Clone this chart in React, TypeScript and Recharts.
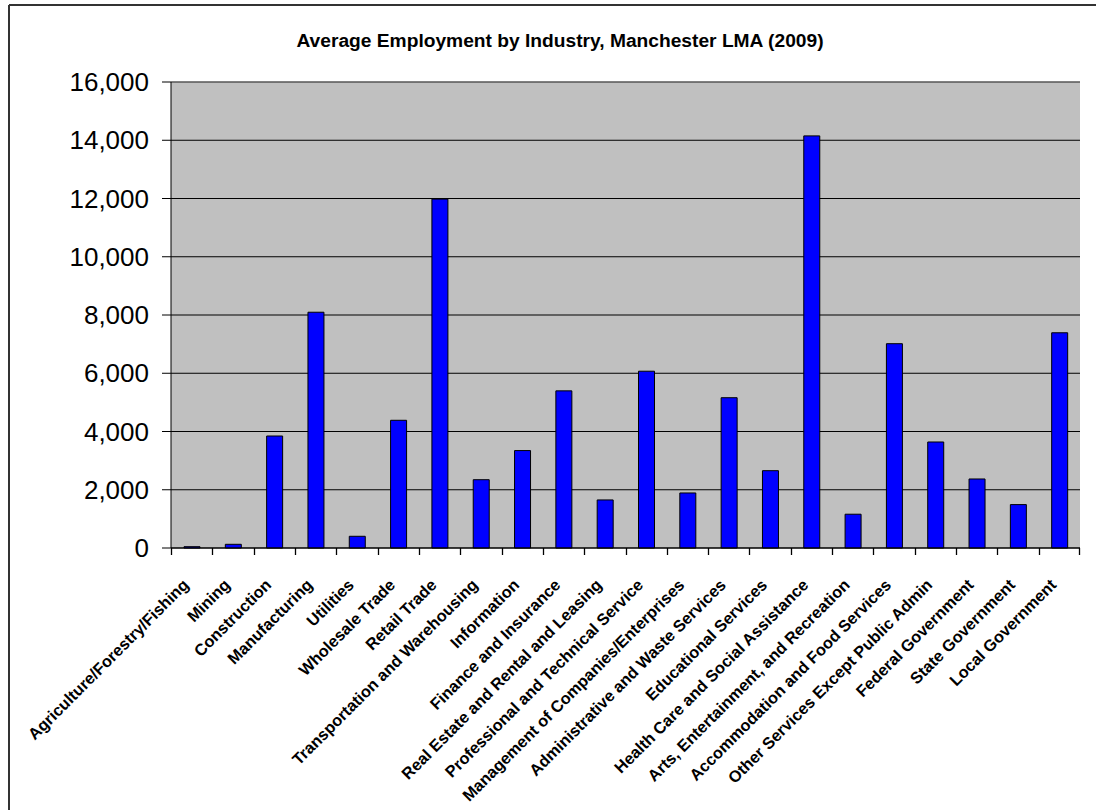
import React from 'react';
import { BarChart, Bar, XAxis, YAxis, CartesianGrid, ReferenceLine } from 'recharts';

const chartTitle = 'Average Employment by Industry, Manchester LMA (2009)';

const categories = [
  'Agriculture/Forestry/Fishing',
  'Mining',
  'Construction',
  'Manufacturing',
  'Utilities',
  'Wholesale Trade',
  'Retail Trade',
  'Transportation and Warehousing',
  'Information',
  'Finance and Insurance',
  'Real Estate and Rental and Leasing',
  'Professional and Technical Service',
  'Management of Companies/Enterprises',
  'Administrative and Waste Services',
  'Educational Services',
  'Health Care and Social Assistance',
  'Arts, Entertainment, and Recreation',
  'Accommodation and Food Services',
  'Other Services Except Public Admin',
  'Federal Government',
  'State Government',
  'Local Government',
];

const employment = [
  45, 127, 3845, 8095, 402, 4385, 11980, 2345, 3345, 5395, 1650, 6070,
  1890, 5160, 2655, 14150, 1160, 7015, 3640, 2370, 1490, 7390,
];

const yTicks = [0, 2000, 4000, 6000, 8000, 10000, 12000, 14000, 16000];

const data = categories.map((name, i) => ({ name, value: employment[i] }));

const FONT = '"Liberation Sans", Arial, Helvetica, sans-serif';

const crisp = (v: number) => Math.round(v) + 0.5;

const CategoryTick = (props: any) => {
  const { x, y, payload, index, visibleTicksCount } = props;
  const count = Number.isFinite(visibleTicksCount) && visibleTicksCount > 0 ? visibleTicksCount : categories.length;
  const off = Number(payload && payload.offset) || 0;
  const tx = x - 2;
  const ty = y + 38;
  const isLast = index === count - 1;
  const lx = crisp(x - off);
  const rx = crisp(x + off) - 1;
  return (
    <g>
      <path d={`M${lx},${y}L${lx},${y + 7}`} stroke="#000000" strokeWidth={1.3} fill="none" />
      {isLast && <path d={`M${rx},${y}L${rx},${y + 7}`} stroke="#000000" strokeWidth={1.3} fill="none" />}
      <text
        x={tx}
        y={ty}
        transform={`rotate(-45, ${tx}, ${ty})`}
        textAnchor="end"
        fontFamily={FONT}
        fontWeight="bold"
        fontSize={16.3}
        fill="#000"
      >
        {payload.value}
      </text>
    </g>
  );
};

export default function App() {
  return (
    <div style={{ position: 'absolute', left: 0, top: 0, width: 1101, height: 810, background: '#fff', overflow: 'hidden' }}>
      <BarChart
        width={1101}
        height={810}
        data={data}
        margin={{ top: 82, right: 21, bottom: 0, left: 0 }}
      >
        <CartesianGrid
          xAxisId="cat"
          yAxisId="left"
          vertical={false}
          stroke="#000"
          fill="#C0C0C0"
          fillOpacity={1}
        />
        <XAxis
          xAxisId="cat"
          dataKey="name"
          interval={0}
          tick={<CategoryTick />}
          tickLine={false}
          tickSize={0}
          tickMargin={0}
          axisLine={{ stroke: '#000' }}
          height={262}
        />
        <YAxis
          yAxisId="left"
          domain={[0, 16000]}
          ticks={yTicks}
          interval={0}
          width={171}
          tickSize={9}
          tickMargin={13}
          tickFormatter={(v: number) => v.toLocaleString('en-US')}
          tick={{ fontSize: 26, fill: '#000', fontFamily: FONT }}
          axisLine={{ stroke: '#000' }}
          tickLine={{ stroke: '#000' }}
        />
        <YAxis
          yAxisId="right"
          orientation="right"
          width={0}
          domain={[0, 1]}
          tick={false}
          tickLine={false}
          axisLine={{ stroke: '#808080' }}
        />
        <ReferenceLine xAxisId="cat" yAxisId="left" y={16000} stroke="#808080" />
        <Bar
          xAxisId="cat"
          yAxisId="left"
          dataKey="value"
          fill="#0000FF"
          stroke="#000"
          strokeWidth={1}
          barSize={16}
          isAnimationActive={false}
        />
      </BarChart>
      <svg
        width={1101}
        height={810}
        style={{ position: 'absolute', left: 0, top: 0, pointerEvents: 'none' }}
      >
        <line x1={9} y1={5} x2={1096} y2={5} stroke="#333" strokeWidth={2} />
        <line x1={9} y1={5} x2={9} y2={810} stroke="#333" strokeWidth={2} />
        <text
          x={560}
          y={47}
          textAnchor="middle"
          fontFamily={FONT}
          fontWeight="bold"
          fontSize={19.2}
          fill="#000"
        >
          {chartTitle}
        </text>
      </svg>
    </div>
  );
}
